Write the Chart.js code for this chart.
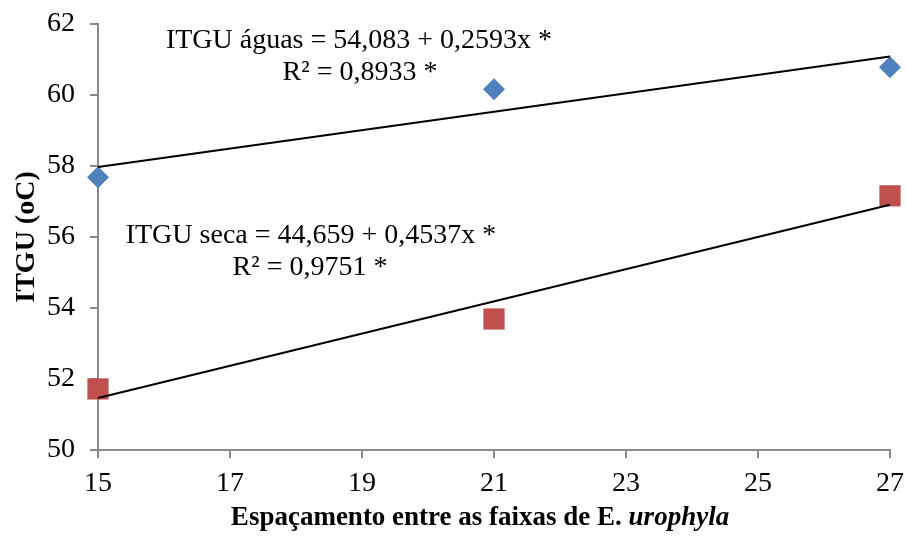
<!DOCTYPE html>
<html>
<head>
  <title>ITGU x Espaçamento</title>
  <script src="https://cdn.jsdelivr.net/npm/chart.js"></script>
  <style>
    body { margin: 0; background: #fff; }
    .chart-container { width: 907px; height: 536px; }
  </style>
</head>
<body>
  <div class="chart-container">
    <canvas id="grafico"></canvas>
  </div>

  <script>
    // Dados
    const espacamentos = [15, 21, 27];
    const itguAguas = [57.68, 60.16, 60.78];
    const itguSeca = [51.72, 53.69, 57.16];
    const xTicks = [15, 17, 19, 21, 23, 25, 27];
    const yTicks = [50, 52, 54, 56, 58, 60, 62];

    // Coeficientes das regressões lineares [intercepto, inclinação]
    const regAguas = [54.083, 0.2593];
    const regSeca = [44.659, 0.4537];
    const rotulosAguas = ['ITGU águas = 54,083 + 0,2593x *', 'R² = 0,8933 *'];
    const rotulosSeca = ['ITGU seca = 44,659 + 0,4537x *', 'R² = 0,9751 *'];

    const FONTE = '"Liberation Serif", "Times New Roman", serif';
    const TAM = 28;
    const xMin = espacamentos[0], xMax = espacamentos[espacamentos.length - 1];

    function linha(reg) {
      return [xMin, xMax].map(x => ({ x: x, y: reg[0] + reg[1] * x }));
    }
    function pontos(ys) {
      return espacamentos.map((x, i) => ({ x: x, y: ys[i] }));
    }

    // textos das equações e títulos dos eixos (x com itálico)
    const textos = {
      id: 'textos',
      afterDraw(chart) {
        const ctx = chart.ctx;
        const area = chart.chartArea;
        ctx.save();
        ctx.fillStyle = '#000';
        ctx.font = TAM + 'px ' + FONTE;
        ctx.textAlign = 'center';
        ctx.textBaseline = 'alphabetic';
        ctx.fillText(rotulosAguas[0], 359, 48);
        ctx.fillText(rotulosAguas[1], 360, 80);
        ctx.fillText(rotulosSeca[0], 311, 243);
        ctx.fillText(rotulosSeca[1], 310, 275);

        // título do eixo y
        ctx.save();
        ctx.translate(34, (area.top + area.bottom) / 2);
        ctx.rotate(-Math.PI / 2);
        ctx.font = 'bold ' + TAM + 'px ' + FONTE;
        ctx.fillText('ITGU (oC)', 0, 0);
        ctx.restore();

        // título do eixo x
        const tamX = 27;
        const parte1 = 'Espaçamento entre as faixas de ';
        const parte2 = 'E. ';
        const parte3 = 'urophyla';
        ctx.font = 'bold ' + tamX + 'px ' + FONTE;
        const w1 = ctx.measureText(parte1).width;
        const w2 = ctx.measureText(parte2).width;
        ctx.font = 'bold italic ' + tamX + 'px ' + FONTE;
        const w3 = ctx.measureText(parte3).width;
        let x = 480 - (w1 + w2 + w3) / 2;
        const y = 525;
        ctx.textAlign = 'left';
        ctx.font = 'bold ' + tamX + 'px ' + FONTE;
        ctx.fillText(parte1, x, y);
        ctx.fillText(parte2, x + w1, y);
        ctx.font = 'bold italic ' + tamX + 'px ' + FONTE;
        ctx.fillText(parte3, x + w1 + w2, y);
        ctx.restore();
      }
    };

    new Chart(document.getElementById('grafico'), {
      type: 'scatter',
      data: {
        datasets: [
          {
            label: 'ITGU águas',
            data: pontos(itguAguas),
            pointStyle: 'rectRot',
            pointRadius: 11,
            backgroundColor: '#4F81BD',
            borderColor: '#4F81BD',
            borderWidth: 0,
            clip: false,
            order: 1
          },
          {
            label: 'ITGU seca',
            data: pontos(itguSeca),
            pointStyle: 'rect',
            pointRadius: 15,
            backgroundColor: '#C0504D',
            borderColor: '#C0504D',
            borderWidth: 0,
            clip: false,
            order: 1
          },
          {
            label: 'Linear (águas)',
            type: 'line',
            data: linha(regAguas),
            borderColor: '#000',
            borderWidth: 2,
            pointRadius: 0,
            fill: false,
            clip: false,
            order: 0
          },
          {
            label: 'Linear (seca)',
            type: 'line',
            data: linha(regSeca),
            borderColor: '#000',
            borderWidth: 2,
            pointRadius: 0,
            fill: false,
            clip: false,
            order: 0
          }
        ]
      },
      options: {
        responsive: true,
        maintainAspectRatio: false,
        animation: false,
        layout: { padding: { top: 24, right: 17, left: 0, bottom: 0 } },
        plugins: {
          legend: { display: false },
          tooltip: { enabled: false }
        },
        scales: {
          x: {
            type: 'linear',
            min: xMin,
            max: xMax,
            afterBuildTicks: s => { s.ticks = xTicks.map(v => ({ value: v })); },
            afterFit: s => { s.height = 86; s.paddingLeft = 0; s.paddingRight = 0; },
            grid: { drawOnChartArea: false, color: '#898989', tickLength: 8, lineWidth: 2 },
            border: { color: '#898989', width: 2 },
            ticks: { color: '#000', font: { family: FONTE, size: TAM }, padding: 9 }
          },
          y: {
            min: 50,
            max: 62,
            afterBuildTicks: s => { s.ticks = yTicks.map(v => ({ value: v })); },
            afterFit: s => { s.width = 98; s.paddingTop = 0; s.paddingBottom = 0; },
            grid: { drawOnChartArea: false, color: '#898989', tickLength: 8, lineWidth: 2 },
            border: { color: '#898989', width: 2 },
            ticks: { color: '#000', font: { family: FONTE, size: TAM }, padding: 15 }
          }
        }
      },
      plugins: [textos]
    });
  </script>
</body>
</html>
